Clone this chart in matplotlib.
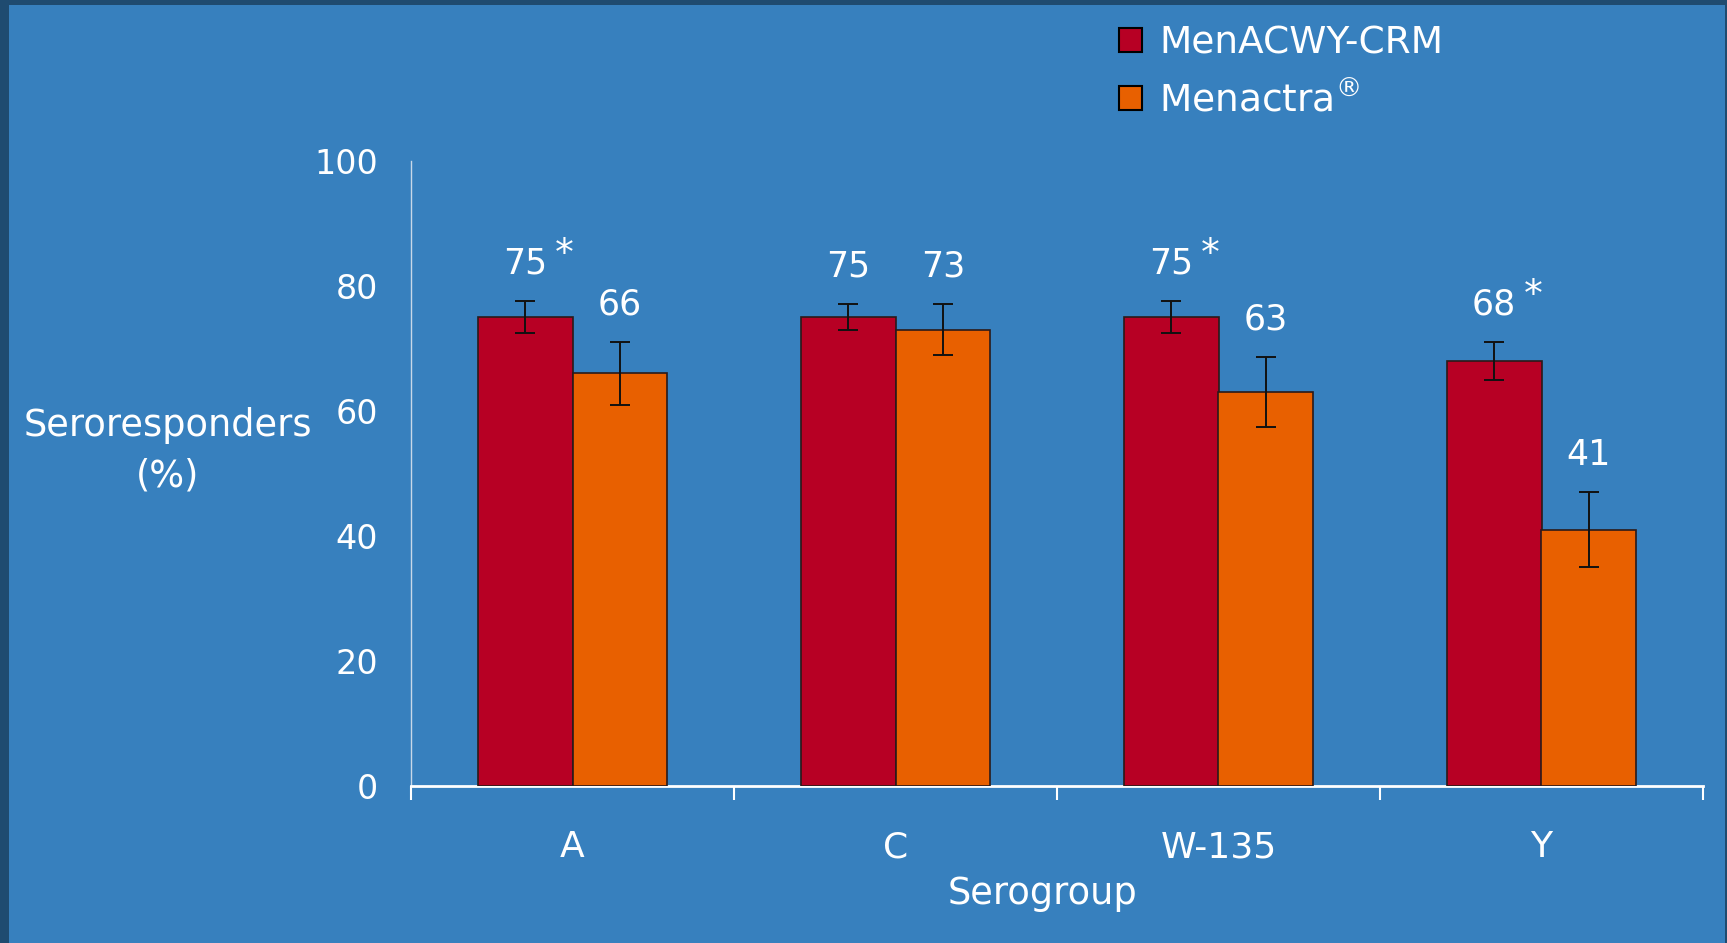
import matplotlib
matplotlib.use("Agg")
import matplotlib.pyplot as plt
from matplotlib.patches import Rectangle, Patch
import numpy as np

plt.rcParams['font.family'] = ['DejaVu Sans']
plt.rcParams['mathtext.fontset'] = 'dejavusans'

# data
groups = ['A', 'C', 'W-135', 'Y']
crm = [75, 75, 75, 68]
crm_err = [2.6, 2.1, 2.6, 3.0]
menactra = [66, 73, 63, 41]
menactra_err = [5.0, 4.1, 5.6, 6.0]
crm_star = [True, False, True, True]

bg = '#3780be'
red = '#b70024'
orange = '#e86000'

W, H = 1727, 943
fig = plt.figure(figsize=(W / 100, H / 100), dpi=100)
fig.patch.set_facecolor('#1f4b70')
# slide body (dark frame on top and left)
fig.patches.append(Rectangle((9 / W, 0), 1 - 11 / W, 1 - 5 / H, transform=fig.transFigure,
                             facecolor=bg, edgecolor='none', zorder=-5))

ax = fig.add_axes([411 / W, 1 - 786 / H, (1703 - 411) / W, (786 - 161) / H])
ax.set_facecolor('none')

x = np.arange(len(groups))
w = 0.294
ekw = dict(ecolor='#111111', elinewidth=1.4, capsize=7.5, capthick=1.4)
ax.bar(x - w / 2, crm, w, color=red, edgecolor='#2a1a1a', linewidth=1.2,
       yerr=crm_err, error_kw=ekw, zorder=3)
ax.bar(x + w / 2, menactra, w, color=orange, edgecolor='#2a1a1a', linewidth=1.2,
       yerr=menactra_err, error_kw=ekw, zorder=3)

# value labels above the error bars
for i in range(len(groups)):
    ax.annotate(str(crm[i]), (x[i] - w / 2, crm[i] + crm_err[i]), xytext=(0, 27),
                textcoords='offset points', ha='center', va='center',
                color='white', fontsize=25)
    if crm_star[i]:
        ax.annotate('*', (x[i] - w / 2, crm[i] + crm_err[i]), xytext=(28, 33),
                    textcoords='offset points', ha='center', va='center',
                    color='white', fontsize=27)
    ax.annotate(str(menactra[i]), (x[i] + w / 2, menactra[i] + menactra_err[i]),
                xytext=(0, 27), textcoords='offset points', ha='center',
                va='center', color='white', fontsize=25)

ax.set_xlim(-0.5, len(groups) - 0.5)
ax.set_ylim(0, 100)
ax.set_yticks([0, 20, 40, 60, 80, 100])
ax.tick_params(axis='y', length=0, pad=24, labelsize=24, labelcolor='white')
ax.set_xticks(x)
ax.set_xticklabels(groups)
ax.set_xticks(np.arange(-0.5, len(groups)), minor=True)
ax.tick_params(axis='x', which='major', length=0, pad=32, labelsize=26, labelcolor='white')
ax.tick_params(axis='x', which='minor', length=10, width=1.5, color='white', direction='out')

for s in ['top', 'right']:
    ax.spines[s].set_visible(False)
ax.spines['left'].set_color('#c8d8e8')
ax.spines['left'].set_linewidth(1.0)
ax.spines['bottom'].set_color('white')
ax.spines['bottom'].set_linewidth(2.0)

fig.text(168 / W, 1 - 451 / H, 'Seroresponders\n(%)', ha='center', va='center',
         color='white', fontsize=26.5, linespacing=1.45)
fig.text(1042 / W, 1 - 893 / H, 'Serogroup', ha='center', va='center',
         color='white', fontsize=26.5)

handles = [Patch(facecolor=red, edgecolor='black', linewidth=1.5),
           Patch(facecolor=orange, edgecolor='black', linewidth=1.5)]
fig.legend(handles, ['MenACWY-CRM', r'Menactra$^{\circledR}$'], loc='upper left',
           bbox_to_anchor=(1119 / W, 1 - 25 / H), frameon=False, fontsize=27,
           labelcolor='white', handlelength=0.62, handleheight=0.62,
           handletextpad=0.45, labelspacing=0.55, borderpad=0, borderaxespad=0)

fig.savefig('out.png', dpi=100, facecolor=fig.get_facecolor())
